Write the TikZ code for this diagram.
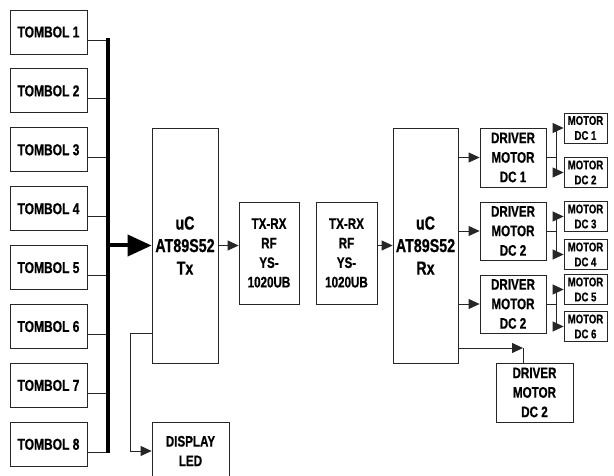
\documentclass[tikz,border=0pt]{standalone}
\usepackage{fontspec}
\setmainfont{Liberation Sans}[FakeStretch=0.76, BoldFeatures={FakeBold=0.6}]
\usetikzlibrary{arrows.meta,calc}
\newcommand\fTombol{\fontsize{15.8}{17}\selectfont\bfseries}
\newcommand\fUc{\fontsize{18.8}{22.5}\selectfont\bfseries}
\newcommand\fMid{\fontsize{15.3}{19.5}\selectfont\bfseries}
\newcommand\fSmall{\fontsize{12.6}{15}\selectfont\bfseries}
\begin{document}
\begin{tikzpicture}[x=1pt,y=-1pt,
  blk/.style={draw=black!85, line width=0.8pt, inner sep=0pt, align=center},
  tbox/.style={blk, minimum width=77pt, minimum height=44pt, font=\fTombol},
  ucbox/.style={blk, minimum width=66pt, minimum height=235pt, font=\fUc},
  rfbox/.style={blk, minimum width=60pt, minimum height=102pt, font=\fMid},
  drvbox/.style={blk, minimum width=66pt, minimum height=58pt, font=\fMid},
  motbox/.style={blk, minimum width=43pt, minimum height=30pt, font=\fSmall},
  wire/.style={draw=black!85, line width=0.8pt},
  arr/.style={wire, -{Triangle[length=11pt,width=10pt]}},
  bus/.style={line width=4pt}
]
\useasboundingbox (0,0) rectangle (614,476);
\clip (0,0) rectangle (614,476);

% Tombol column and bus
\coordinate (busTop) at (108,38);
\coordinate (busBot) at (108,453);
\foreach \i in {1,...,8} {
  \pgfmathsetmacro\cy{32+58.9*(\i-1)}
  \node[tbox] (T\i) at (48.5,\cy) {TOMBOL \i};
  \coordinate (t\i) at ($(T\i.east)+(0,8)$);
  \draw[wire] (t\i) -- (t\i -| busTop);
}
\draw[bus] (busTop) -- (busBot);

% uC Tx
\node[ucbox] (uCTx) at (185,245.5) {uC\\AT89S52\\Tx};
\draw[bus, -{Triangle[length=24pt,width=21pt]}] (busTop |- uCTx.west) -- (uCTx.west);

% RF modules
\node[rfbox] (TX1) at (269,253) {TX-RX\\RF\\YS-\\1020UB};
\node[rfbox, minimum width=61pt] (TX2) at (346.5,253) {TX-RX\\RF\\YS-\\1020UB};
\draw[arr] (uCTx.east) -- (uCTx.east -| TX1.west);

% uC Rx
\node[ucbox, minimum width=65pt] (uCRx) at (425.5,245.5) {uC\\AT89S52\\Rx};
\draw[arr] (uCRx.west -| TX2.east) -- (uCRx.west);

% Display LED
\node[blk, minimum width=77pt, minimum height=58pt, font=\fMid] (DL) at (190.5,451) {DISPLAY\\LED};
\coordinate (dlA) at (130,333);
\draw[wire] (uCTx.west |- dlA) -- (dlA);
\draw[arr] (dlA) |- (DL.west);

% Drivers
\node[drvbox, minimum height=59pt] (D1) at (513,157.5) {DRIVER\\MOTOR\\DC 1};
\node[drvbox] (D2) at (513,231) {DRIVER\\MOTOR\\DC 2};
\node[drvbox] (D3) at (513,304) {DRIVER\\MOTOR\\DC 2};
\node[drvbox, minimum width=77pt, minimum height=59pt] (D4) at (534.5,392.5) {DRIVER\\MOTOR\\DC 2};
\foreach \d in {D1,D2,D3} {
  \draw[arr] (uCRx.east |- \d.west) -- (\d.west);
}
\coordinate (c4) at (523,348);
\draw[arr] (uCRx.east |- c4) -- (c4);
\draw[wire] (c4) -- (c4 |- D4.north);

% Motors
\node[motbox] (M1) at (585.5,128) {MOTOR\\DC 1};
\node[motbox] (M2) at (585.5,172.5) {MOTOR\\DC 2};
\node[motbox] (M3) at (585.5,216.5) {MOTOR\\DC 3};
\node[motbox] (M4) at (585.5,254.5) {MOTOR\\DC 4};
\node[motbox] (M5) at (585.5,289.5) {MOTOR\\DC 5};
\node[motbox] (M6) at (585.5,326.5) {MOTOR\\DC 6};

\coordinate (j1) at ($(D1.east)+(10,0)$);
\coordinate (j2) at ($(D2.east)+(10,0)$);
\coordinate (j3) at ($(D3.east)+(10,0)$);
\draw[wire] (D1.east) -- (j1);
\draw[wire] (D2.east) -- (j2);
\draw[wire] (D3.east) -- (j3);
\draw[arr] (j1) |- (M1.west);
\draw[arr] (j1) |- (M2.west);
\draw[arr] (j2) |- (M3.west);
\draw[arr] (j2) |- (M4.west);
\draw[arr] (j3) |- (M5.west);
\draw[arr] (j3) |- (M6.west);
\end{tikzpicture}
\end{document}
